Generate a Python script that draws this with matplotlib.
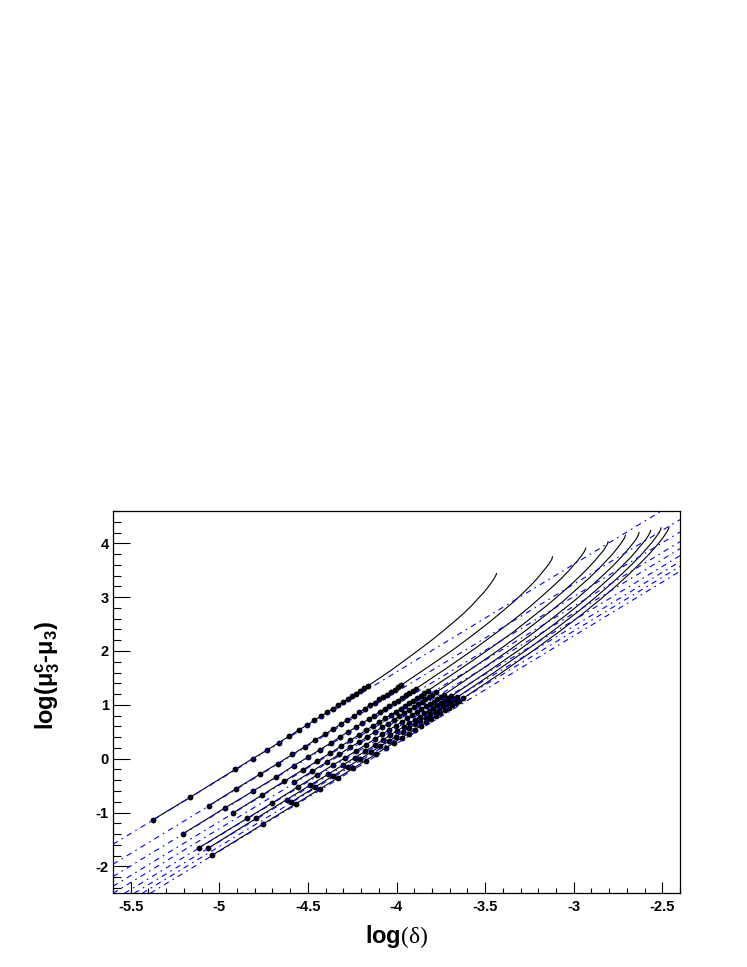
import numpy as np
import matplotlib
matplotlib.use('Agg')
import matplotlib.pyplot as plt
from matplotlib.ticker import MultipleLocator, FuncFormatter

# ---------------- data ----------------
# asymptotic straight lines  log(mu) = slope*log(delta) + intercept
asym_slope = 2.0
asym_intercepts = [9.61, 9.24, 9.01, 8.83, 8.70, 8.57, 8.46, 8.37, 8.28]

s1_dot_x = [-5.372, -5.166, -4.911, -4.812, -4.731, -4.663, -4.605, -4.553, -4.507, -4.465, -4.427,
            -4.392, -4.359, -4.329, -4.301, -4.275, -4.250, -4.226, -4.204, -4.182, -4.162]
s1_dot_y = [-1.13, -0.72, -0.20, 0.00, 0.16, 0.30, 0.42, 0.53, 0.62, 0.71, 0.79,
            0.86, 0.93, 0.99, 1.05, 1.11, 1.16, 1.21, 1.26, 1.31, 1.35]
s1_tail_x = [-4.031, -3.915, -3.821, -3.741, -3.676, -3.617, -3.574, -3.538, -3.509, -3.487, -3.469,
             -3.454, -3.445, -3.440, -3.437, -3.436]
s1_tail_y = [1.64, 1.92, 2.15, 2.36, 2.54, 2.71, 2.85, 2.98, 3.08, 3.17, 3.25, 3.32, 3.37, 3.40, 3.42, 3.44]

s2_dot_x = [-5.058, -4.906, -4.772, -4.670, -4.587, -4.518, -4.458, -4.405, -4.358, -4.316, -4.277, -4.242,
            -4.209, -4.179, -4.150, -4.124, -4.098, -4.075, -4.052, -4.031, -4.010, -3.991, -3.972]
s2_dot_y = [-0.87, -0.56, -0.29, -0.09, 0.08, 0.22, 0.35, 0.45, 0.55, 0.64, 0.72, 0.79,
            0.86, 0.93, 0.99, 1.04, 1.10, 1.15, 1.19, 1.24, 1.28, 1.33, 1.37]
s2_tail_x = [-3.819, -3.682, -3.572, -3.478, -3.401, -3.333, -3.282, -3.239, -3.205, -3.180, -3.158,
             -3.141, -3.130, -3.124, -3.121, -3.120]
s2_tail_y = [1.71, 2.02, 2.29, 2.53, 2.74, 2.93, 3.09, 3.23, 3.35, 3.45, 3.54, 3.61, 3.67, 3.70, 3.73, 3.75]

s3_dot_x = [-5.203, -4.966, -4.809, -4.679, -4.580, -4.499, -4.431, -4.372, -4.320, -4.273, -4.231, -4.193,
            -4.158, -4.126, -4.095, -4.067, -4.041, -4.016, -3.992, -3.970, -3.948, -3.928, -3.909, -3.890]
s3_dot_y = [-1.39, -0.91, -0.60, -0.34, -0.13, 0.03, 0.17, 0.29, 0.40, 0.50, 0.58, 0.66,
            0.73, 0.80, 0.87, 0.93, 0.98, 1.03, 1.08, 1.13, 1.18, 1.22, 1.26, 1.30]
s3_tail_x = [-3.718, -3.564, -3.440, -3.334, -3.248, -3.172, -3.114, -3.066, -3.028, -2.999, -2.975,
             -2.956, -2.943, -2.937, -2.933, -2.932]
s3_tail_y = [1.68, 2.03, 2.33, 2.59, 2.82, 3.04, 3.21, 3.36, 3.49, 3.60, 3.69, 3.77, 3.83, 3.87, 3.89, 3.91]

s4_dot_x = [-4.925, -4.761, -4.635, -4.530, -4.446, -4.375, -4.315, -4.261, -4.214, -4.171, -4.132, -4.096,
            -4.063, -4.033, -4.004, -3.977, -3.952, -3.928, -3.905, -3.884, -3.863, -3.844, -3.825]
s4_dot_y = [-1.01, -0.68, -0.42, -0.21, -0.04, 0.10, 0.23, 0.34, 0.44, 0.53, 0.61, 0.68,
            0.75, 0.81, 0.87, 0.93, 0.98, 1.04, 1.08, 1.13, 1.17, 1.22, 1.26]
s4_tail_x = [-3.642, -3.479, -3.346, -3.234, -3.142, -3.061, -3.000, -2.949, -2.908, -2.877, -2.852,
             -2.831, -2.818, -2.811, -2.808, -2.806]
s4_tail_y = [1.66, 2.03, 2.34, 2.63, 2.87, 3.10, 3.28, 3.44, 3.58, 3.69, 3.79, 3.87, 3.94, 3.98, 4.00, 4.03]

s5_dot_x = [-4.577, -4.475, -4.392, -4.323, -4.263, -4.211, -4.164, -4.122, -4.083, -4.048, -4.015,
            -3.985, -3.956, -3.929, -3.904, -3.881, -3.858, -3.837, -3.816, -3.797, -3.778]
s5_dot_y = [-0.44, -0.23, -0.06, 0.08, 0.21, 0.31, 0.41, 0.50, 0.58, 0.65, 0.72,
            0.79, 0.85, 0.90, 0.96, 1.01, 1.05, 1.10, 1.14, 1.19, 1.23]
s5_tail_x = [-3.585, -3.414, -3.275, -3.157, -3.061, -2.976, -2.911, -2.858, -2.815, -2.783, -2.756,
             -2.735, -2.721, -2.713, -2.710, -2.708]
s5_tail_y = [1.65, 2.04, 2.37, 2.67, 2.92, 3.17, 3.36, 3.53, 3.68, 3.79, 3.90, 3.99, 4.06, 4.10, 4.13, 4.15]

s6_dot_x = [-5.113, -4.844, -4.700, -4.555, -4.447, -4.360, -4.288, -4.226, -4.172, -4.124, -4.080, -4.041,
            -4.005, -3.971, -3.940, -3.911, -3.884, -3.859, -3.835, -3.812, -3.790, -3.770, -3.750, -3.731]
s6_dot_y = [-1.65, -1.11, -0.82, -0.52, -0.30, -0.12, 0.02, 0.15, 0.26, 0.36, 0.45, 0.54,
            0.61, 0.68, 0.75, 0.81, 0.86, 0.92, 0.97, 1.02, 1.06, 1.11, 1.15, 1.19]
s6_tail_x = [-3.533, -3.357, -3.214, -3.093, -2.994, -2.906, -2.840, -2.785, -2.741, -2.708, -2.680,
             -2.658, -2.644, -2.636, -2.633, -2.631]
s6_tail_y = [1.63, 2.03, 2.37, 2.68, 2.94, 3.19, 3.39, 3.56, 3.71, 3.83, 3.94, 4.03, 4.10, 4.15, 4.18, 4.20]

s7_dot_x = [-5.062, -4.793, -4.620, -4.487, -4.386, -4.304, -4.235, -4.175, -4.123, -4.076, -4.034, -3.996,
            -3.960, -3.928, -3.897, -3.869, -3.842, -3.817, -3.793, -3.771, -3.750, -3.729, -3.710, -3.691]
s7_dot_y = [-1.66, -1.11, -0.76, -0.49, -0.29, -0.12, 0.02, 0.14, 0.25, 0.35, 0.44, 0.52,
            0.59, 0.66, 0.72, 0.78, 0.84, 0.89, 0.94, 0.99, 1.04, 1.08, 1.12, 1.16]
s7_tail_x = [-3.488, -3.308, -3.162, -3.038, -2.937, -2.846, -2.779, -2.723, -2.678, -2.644, -2.616,
             -2.593, -2.579, -2.571, -2.567, -2.565]
s7_tail_y = [1.61, 2.02, 2.37, 2.68, 2.95, 3.21, 3.41, 3.59, 3.74, 3.87, 3.98, 4.07, 4.14, 4.19, 4.22, 4.24]

s8_dot_x = [-4.596, -4.461, -4.358, -4.275, -4.205, -4.145, -4.092, -4.045, -4.003, -3.964, -3.928,
            -3.896, -3.865, -3.836, -3.810, -3.785, -3.761, -3.738, -3.717, -3.696, -3.677, -3.658]
s8_dot_y = [-0.81, -0.53, -0.32, -0.15, -0.01, 0.12, 0.23, 0.32, 0.41, 0.49, 0.57,
            0.64, 0.70, 0.76, 0.82, 0.87, 0.92, 0.97, 1.02, 1.06, 1.10, 1.14]
s8_tail_x = [-3.451, -3.267, -3.117, -2.990, -2.887, -2.795, -2.726, -2.668, -2.622, -2.588, -2.559,
             -2.536, -2.521, -2.513, -2.509, -2.507]
s8_tail_y = [1.596, 2.017, 2.374, 2.693, 2.969, 3.229, 3.436, 3.620, 3.777, 3.902, 4.014,
             4.112, 4.184, 4.230, 4.260, 4.286]

s9_dot_x = [-5.041, -4.752, -4.568, -4.432, -4.328, -4.244, -4.174, -4.114, -4.061, -4.014, -3.971, -3.932,
            -3.897, -3.864, -3.833, -3.805, -3.778, -3.753, -3.729, -3.706, -3.685, -3.664, -3.645, -3.626]
s9_dot_y = [-1.794, -1.211, -0.839, -0.561, -0.350, -0.178, -0.034, 0.090, 0.200, 0.298, 0.386, 0.467,
            0.542, 0.611, 0.675, 0.736, 0.792, 0.846, 0.897, 0.945, 0.991, 1.035, 1.077, 1.118]
s9_tail_x = [-3.416, -3.230, -3.079, -2.951, -2.846, -2.753, -2.683, -2.625, -2.578, -2.543, -2.514,
             -2.491, -2.476, -2.468, -2.464, -2.462]
s9_tail_y = [1.578, 2.003, 2.365, 2.688, 2.968, 3.231, 3.442, 3.628, 3.787, 3.914, 4.028,
             4.128, 4.202, 4.248, 4.279, 4.305]

series = [
    (s1_dot_x, s1_dot_y, s1_tail_x, s1_tail_y),
    (s2_dot_x, s2_dot_y, s2_tail_x, s2_tail_y),
    (s3_dot_x, s3_dot_y, s3_tail_x, s3_tail_y),
    (s4_dot_x, s4_dot_y, s4_tail_x, s4_tail_y),
    (s5_dot_x, s5_dot_y, s5_tail_x, s5_tail_y),
    (s6_dot_x, s6_dot_y, s6_tail_x, s6_tail_y),
    (s7_dot_x, s7_dot_y, s7_tail_x, s7_tail_y),
    (s8_dot_x, s8_dot_y, s8_tail_x, s8_tail_y),
    (s9_dot_x, s9_dot_y, s9_tail_x, s9_tail_y),
]

x_title = r'log$\mathrm{(\delta)}$'
y_title = r'log(μ$_3^c$-μ$_3$)'

# ---------------- style ----------------
plt.rcParams['axes.unicode_minus'] = False
plt.rcParams['mathtext.fontset'] = 'custom'
plt.rcParams['mathtext.rm'] = 'Liberation Serif'
plt.rcParams['mathtext.bf'] = 'Liberation Sans:bold'
plt.rcParams['mathtext.default'] = 'bf'

fig = plt.figure(figsize=(7.47, 9.67), dpi=100)
ax = fig.add_axes([113/747, (967-893.3)/967, (680-113)/747, (893.3-511)/967])
ax.set_xlim(-5.6, -2.4)
ax.set_ylim(-2.5, 4.6)

for cval in asym_intercepts:
    ax.axline((0, cval), slope=asym_slope, color='blue', lw=0.8,
              ls=(0, (5, 4, 1.5, 4)), zorder=3)

for dx, dy, tx, ty in series:
    ax.plot(list(dx) + list(tx), list(dy) + list(ty), color='black', lw=0.8, zorder=2)
    ax.plot(dx, dy, 'o', color='black', ms=4.2, mew=0, zorder=2.5)

ax.xaxis.set_major_locator(MultipleLocator(0.5))
ax.xaxis.set_minor_locator(MultipleLocator(0.1))
ax.yaxis.set_major_locator(MultipleLocator(1))
ax.yaxis.set_minor_locator(MultipleLocator(0.2))
fmt = FuncFormatter(lambda v, p: '%g' % round(v, 3))
ax.xaxis.set_major_formatter(fmt)
ax.yaxis.set_major_formatter(fmt)
ax.tick_params(axis='x', which='major', direction='in', length=7.7, width=0.8, pad=5)
ax.tick_params(axis='x', which='minor', direction='in', length=3.8, width=0.8)
ax.tick_params(axis='y', which='major', direction='in', length=12, width=0.8, pad=3)
ax.tick_params(axis='y', which='minor', direction='in', length=6, width=0.8)
for lab in ax.get_xticklabels() + ax.get_yticklabels():
    lab.set_fontfamily('Liberation Sans')
    lab.set_fontweight('bold')
    lab.set_fontsize(10.5)
for s in ax.spines.values():
    s.set_linewidth(0.9)

fig.text(396.5/747, 1-937/967, x_title, ha='center', va='center',
         fontfamily='Liberation Sans', fontweight='bold', fontsize=17)
fig.text(48/747, 1-676/967, y_title, ha='center', va='center', rotation=90,
         fontfamily='Liberation Sans', fontweight='bold', fontsize=17)

fig.savefig('out.png', dpi=100)
